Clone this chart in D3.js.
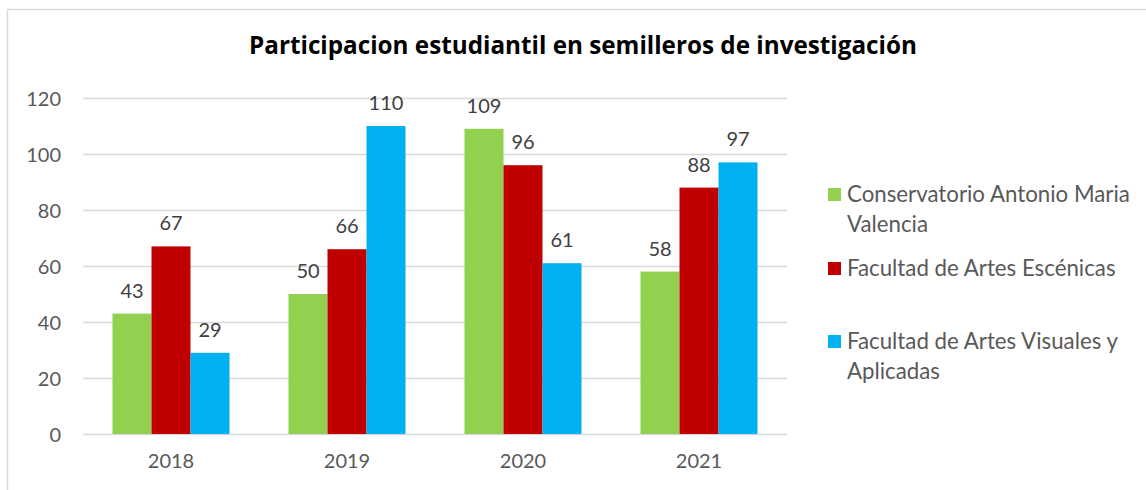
<!DOCTYPE html>
<html><head><meta charset="utf-8">
<script src="https://cdn.jsdelivr.net/npm/d3@7"></script>
<style>body{margin:0;background:#fff}svg{display:block}text{font-family:Lato,"Open Sans",sans-serif}</style>
</head><body><svg id="c" width="1146" height="490"></svg>
<script>
const categories = ["2018","2019","2020","2021"];
const seriesNames = ["Conservatorio Antonio Maria Valencia","Facultad de Artes Escénicas","Facultad de Artes Visuales y Aplicadas"];
const conservatorio = [43,50,109,58];
const escenicas = [67,66,96,88];
const visuales = [29,110,61,97];
const yTicks = [0,20,40,60,80,100,120];
const colors = ["#92D050","#C00000","#00B0F0"];
const legendLines = [["Conservatorio Antonio Maria","Valencia"],["Facultad de Artes Escénicas"],["Facultad de Artes Visuales y","Aplicadas"]];

const series = [conservatorio, escenicas, visuales];
const svg = d3.select("#c");
svg.append("rect").attr("x",7.5).attr("y",9.5).attr("width",1146).attr("height",500).attr("fill","#fff").attr("stroke","#d9d9d9").attr("stroke-width",1.5);

function fit(sel, target){
  const fs = parseFloat(sel.attr("font-size"));
  const w = sel.node().getComputedTextLength();
  const nf = fs*target/w;
  sel.attr("font-size", nf);
  return nf;
}

const title = svg.append("text").attr("x",583).attr("y",54).attr("text-anchor","middle")
  .attr("font-size",22).attr("font-weight","bold").attr("fill","#000")
  .style("font-family","'Open Sans', sans-serif")
  .text("Participacion estudiantil en semilleros de investigación");
fit(title, 668);

const x = d3.scaleBand().domain(categories).range([83,787]).paddingInner(0).paddingOuter(0);
const y = d3.scaleLinear().domain([0,120]).range([434,98]);

// gridlines
svg.append("g").selectAll("line").data(yTicks).join("line")
  .attr("x1",83).attr("x2",787).attr("y1",d=>Math.round(y(d))+0.5).attr("y2",d=>Math.round(y(d))+0.5)
  .attr("stroke","#d9d9d9").attr("stroke-width",1.5);

const yAxis = svg.append("g").attr("transform","translate(83,0)").call(d3.axisLeft(y).tickValues(yTicks).tickSize(0).tickPadding(22));
yAxis.select(".domain").remove();
yAxis.selectAll("text").attr("font-size",20).attr("fill","#595959").attr("font-family","Lato, sans-serif").attr("dy","0.35em");

const xAxis = svg.append("g").attr("transform","translate(0,434)").call(d3.axisBottom(x).tickSize(0).tickPadding(20));
xAxis.select(".domain").remove();
xAxis.selectAll("text").attr("font-size",20).attr("fill","#595959").attr("font-family","Lato, sans-serif").attr("dy","0.71em");

const bw = 39;
categories.forEach((c,i)=>{
  const cx = x(c) + x.bandwidth()/2;
  series.forEach((s,j)=>{
    const bx = cx - 1.5*bw + j*bw;
    svg.append("rect").attr("x",bx).attr("y",y(s[i])).attr("width",bw).attr("height",y(0)-y(s[i])).attr("fill",colors[j]);
    svg.append("text").attr("x",bx+bw/2).attr("y",y(s[i])-16).attr("text-anchor","middle")
      .attr("font-size",20).attr("fill","#404040").text(s[i]);
  });
});

// legend
const legY = [194.5,268.5,341.5];
let legFont = 19.5;
legendLines.forEach((lines,j)=>{
  svg.append("rect").attr("x",828).attr("y",legY[j]-6.5).attr("width",13).attr("height",13).attr("fill",colors[j]);
  lines.forEach((t,k)=>{
    const tx = svg.append("text").attr("class","leg").attr("x",847).attr("y",legY[j]+7+k*30).attr("font-size",legFont).attr("fill","#595959").text(t);
    if(j===0 && k===0) legFont = fit(tx, 283);
  });
});
svg.selectAll("text.leg").attr("font-size",legFont);
</script></body></html>
